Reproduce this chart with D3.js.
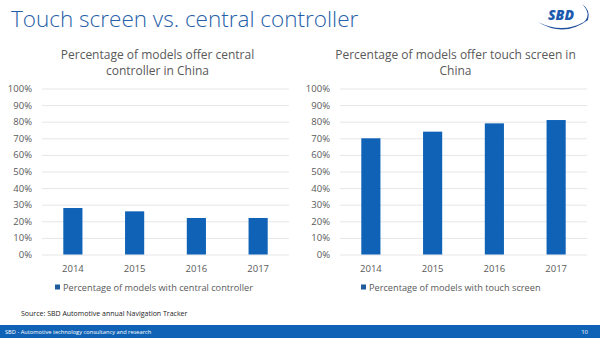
<!DOCTYPE html>
<html>
<head>
<meta charset="utf-8">
<script src="https://cdn.jsdelivr.net/npm/d3@7"></script>
<style>
  body { margin: 0; background: #fff; }
  svg { display: block; font-family: "Open Sans", "Segoe UI", sans-serif; }
</style>
</head>
<body>
<svg id="slide" width="600" height="338"></svg>
<script>
'use strict'

var years = ['2014', '2015', '2016', '2017'];
var controllerShare = [28, 26, 22, 22];
var touchShare = [70, 74, 79, 81];
var yTicks = [0, 10, 20, 30, 40, 50, 60, 70, 80, 90, 100];

var barColor = '#0f62b6';
var textColor = '#595959';

var svg = d3.select('#slide');

// slide heading
svg.append('text')
  .attr('x', 11)
  .attr('y', 27)
  .attr('fill', '#2660a8')
  .style('font-size', '22.5px')
  .style('font-weight', 300)
  .text('Touch screen vs. central controller');

// SBD logo
var logo = svg.append('g').attr('transform', 'translate(562,16)');
logo.append('path')
  .attr('d', 'M-24,6 Q2,22 26,4 Q29,-6 20,-12 Q30,-2 22,6 Q0,18 -24,6 Z')
  .attr('fill', '#1d4f9c');
logo.append('text')
  .attr('x', -1)
  .attr('y', 4)
  .attr('text-anchor', 'middle')
  .attr('fill', '#1d5bb0')
  .style('font-size', '14px')
  .style('font-weight', 800)
  .style('font-style', 'italic')
  .text('SBD');

function drawChart(opts){
  var g = svg.append('g');

  var x = d3.scaleBand()
    .domain(years)
    .range([opts.x0, opts.x1])
    .paddingInner(0.69)
    .paddingOuter(0.345);

  var y = d3.scaleLinear()
    .domain([0, 100])
    .range([254.5, 88.5]);

  opts.title.forEach(function(line, i){
    g.append('text')
      .attr('x', (opts.x0 + opts.x1) / 2 - 8)
      .attr('y', 59 + i * 16)
      .attr('text-anchor', 'middle')
      .attr('fill', textColor)
      .style('font-size', '12px')
      .text(line);
  });

  var yAxis = d3.axisLeft(y)
    .tickValues(yTicks)
    .tickSize(-(opts.x1 - opts.x0))
    .tickPadding(10)
    .tickFormat(function(d){ return d + '%'; });

  var ya = g.append('g')
    .attr('transform', 'translate(' + opts.x0 + ',0)')
    .call(yAxis);
  ya.select('.domain').remove();
  ya.selectAll('line').attr('stroke', '#e6e6e6');
  ya.selectAll('text')
    .attr('fill', textColor)
    .style('font-size', '9.5px')
    .style('font-family', '"Open Sans", sans-serif');

  g.selectAll('rect.bar')
    .data(opts.values)
    .enter()
    .append('rect')
    .attr('class', 'bar')
    .attr('x', function(d, i){ return x(years[i]); })
    .attr('y', function(d){ return y(d); })
    .attr('width', x.bandwidth())
    .attr('height', function(d){ return y(0) - y(d); })
    .attr('fill', barColor);

  var xAxis = d3.axisBottom(x).tickSize(0).tickPadding(11);
  var xa = g.append('g')
    .attr('transform', 'translate(0,' + y(0) + ')')
    .call(xAxis);
  xa.select('.domain').remove();
  xa.selectAll('text')
    .attr('fill', textColor)
    .style('font-size', '9.5px')
    .style('font-family', '"Open Sans", sans-serif');

  // legend
  g.append('rect')
    .attr('x', opts.legendX)
    .attr('y', 284.5)
    .attr('width', 5)
    .attr('height', 5)
    .attr('fill', '#1f5c9e');
  g.append('text')
    .attr('x', opts.legendX + 8)
    .attr('y', 290.5)
    .attr('fill', textColor)
    .style('font-size', '9.2px')
    .text(opts.legend);
}

drawChart({
  x0: 42, x1: 289,
  values: controllerShare,
  title: ['Percentage of models offer central', 'controller in China'],
  legend: 'Percentage of models with central controller',
  legendX: 55
});

drawChart({
  x0: 340, x1: 587,
  values: touchShare,
  title: ['Percentage of models offer touch screen in', 'China'],
  legend: 'Percentage of models with touch screen',
  legendX: 361
});

// source note
svg.append('text')
  .attr('x', 21)
  .attr('y', 316)
  .attr('fill', '#222')
  .style('font-size', '7px')
  .text('Source: SBD Automotive annual Navigation Tracker');

// footer band
svg.append('rect')
  .attr('x', 0)
  .attr('y', 325)
  .attr('width', 600)
  .attr('height', 13)
  .attr('fill', '#0f62b6');
svg.append('text')
  .attr('x', 5)
  .attr('y', 334)
  .attr('fill', '#fff')
  .style('font-size', '5.7px')
  .text('SBD - Automotive technology consultancy and research');
svg.append('text')
  .attr('x', 588)
  .attr('y', 334)
  .attr('text-anchor', 'end')
  .attr('fill', '#fff')
  .style('font-size', '6px')
  .text('10');
</script>
</body>
</html>
